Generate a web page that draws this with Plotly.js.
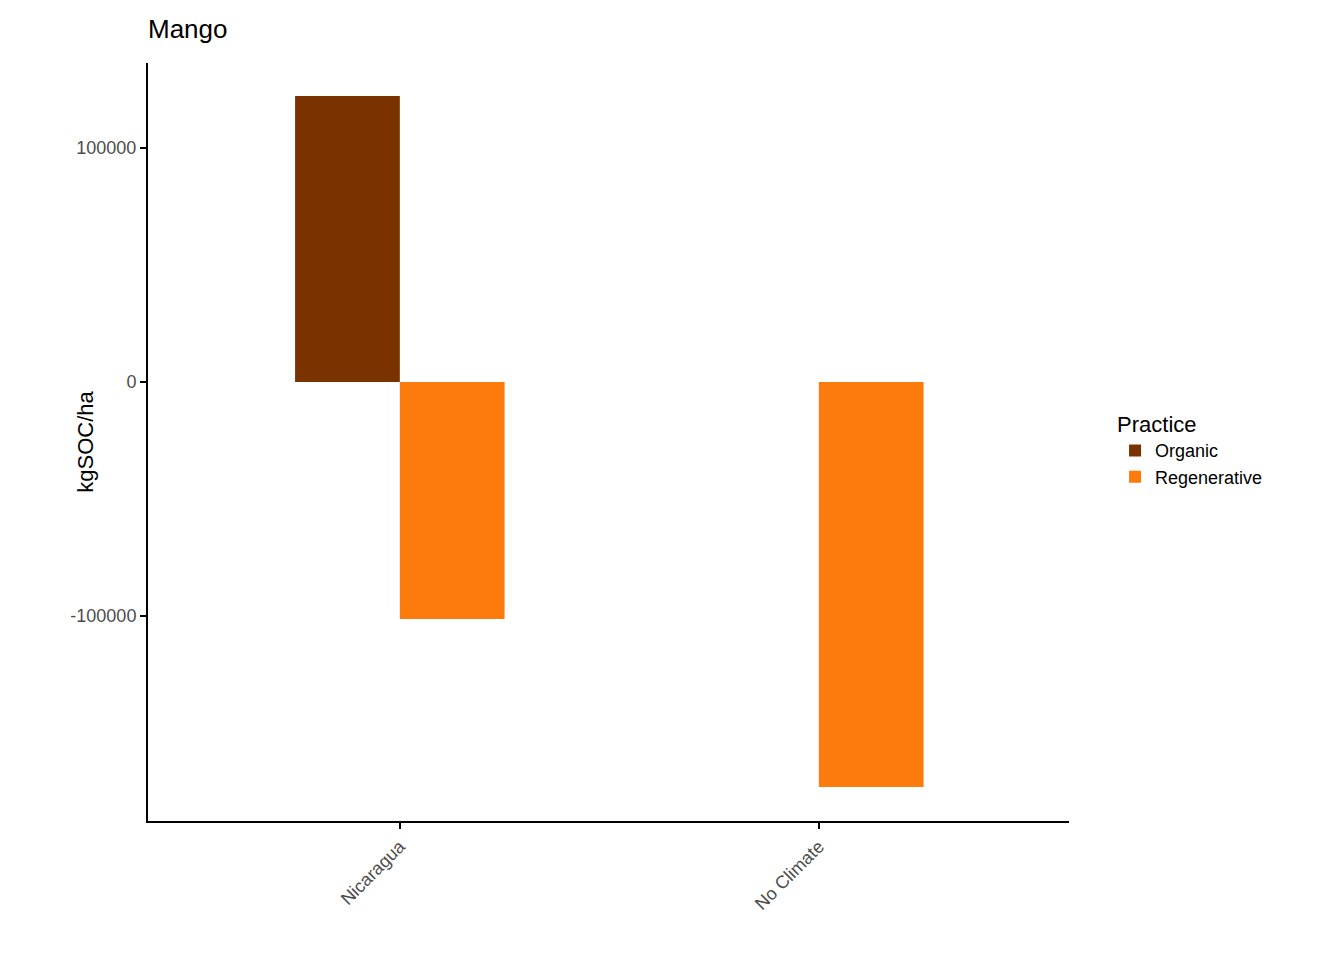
<!DOCTYPE html>
<html>
<head>
<script src="https://cdn.plot.ly/plotly-3.0.1.min.js"></script>
<style>body{margin:0}#chart{width:1344px;height:960px}</style>
</head>
<body>
<div id="chart"></div>
<script>
const locations = ['Nicaragua', 'No Climate'];
const organic = [122200, null];
const regenerative = [-101300, -173100];

const data = [
    {type: 'bar', name: 'Organic', x: locations, y: organic, marker: {color: '#7A3300'}},
    {type: 'bar', name: 'Regenerative', x: locations, y: regenerative, marker: {color: '#FD7B0C'}}
];

const axisStyle = {
    showline: true, linecolor: 'black', linewidth: 2,
    ticks: 'outside', ticklen: 6, tickcolor: 'black', tickwidth: 1.5,
    showgrid: false, zeroline: false,
    tickfont: {family: 'Liberation Sans, Arial', size: 18, color: '#4d4d4d'}
};

const layout = {
    width: 1344, height: 960,
    margin: {l: 148, r: 275, t: 63, b: 139},
    paper_bgcolor: 'white', plot_bgcolor: 'white',
    barmode: 'group', bargap: 0.5, bargroupgap: 0,
    title: {text: 'Mango', x: 148 / 1344, xanchor: 'left', y: 0.97, yanchor: 'middle',
        font: {family: 'Liberation Sans, Arial', size: 26, color: 'black'}},
    xaxis: {...axisStyle, range: [-0.601, 1.597], tickangle: -45},
    yaxis: {...axisStyle, range: [-187600, 136300], tickvals: [-100000, 0, 100000],
        ticktext: ['-100000', '0', '100000'],
        title: {text: 'kgSOC/ha', font: {family: 'Liberation Sans, Arial', size: 22, color: 'black'}}},
    legend: {x: 1.05, xanchor: 'left', y: 0.49, yanchor: 'middle',
        title: {text: 'Practice', font: {family: 'Liberation Sans, Arial', size: 22, color: 'black'}},
        font: {family: 'Liberation Sans, Arial', size: 18, color: 'black'}}
};

Plotly.newPlot('chart', data, layout, {displayModeBar: false});
</script>
</body>
</html>
